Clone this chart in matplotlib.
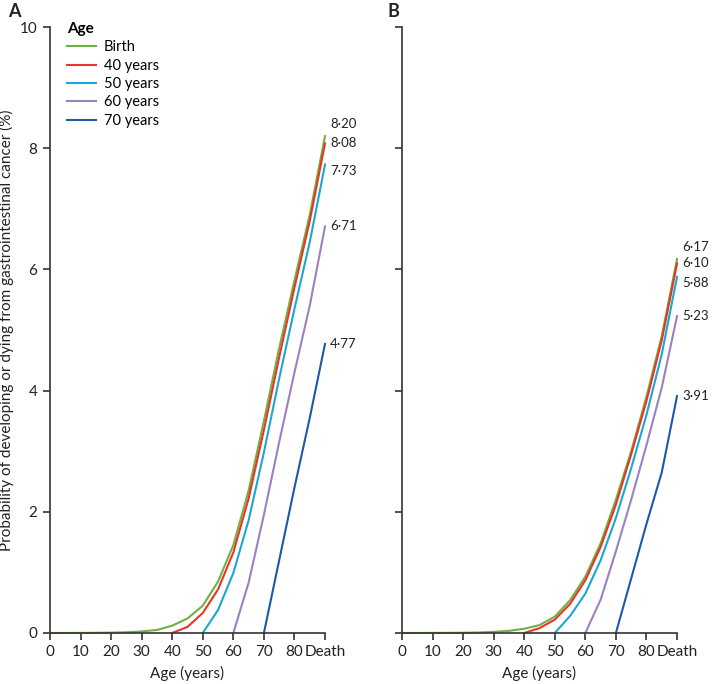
import matplotlib.pyplot as plt

plt.rcParams['font.family'] = ['Lato', 'DejaVu Sans']

# ages along the x axis, 90 stands for "Death"
ages = [0, 5, 10, 15, 20, 25, 30, 35, 40, 45, 50, 55, 60, 65, 70, 75, 80, 85, 90]
xtick_vals = [0, 10, 20, 30, 40, 50, 60, 70, 80, 90]
xtick_labels = ['0', '10', '20', '30', '40', '50', '60', '70', '80', 'Death']

series_names = ['Birth', '40 years', '50 years', '60 years', '70 years']
start_ages = [0, 40, 50, 60, 70]
colors = ['#6cb33f', '#e8352a', '#1ba7d3', '#9b80c4', '#1b5aa8']

# panel A values (from start age onward)
a_birth = [0, 0, 0.001, 0.003, 0.006, 0.012, 0.025, 0.05, 0.12, 0.24, 0.45, 0.85,
           1.45, 2.35, 3.5, 4.7, 5.82, 6.9, 8.20]
a_40 = [0, 0.1, 0.33, 0.72, 1.33, 2.22, 3.35, 4.55, 5.7, 6.8, 8.08]
a_50 = [0, 0.38, 0.99, 1.86, 2.98, 4.2, 5.35, 6.45, 7.73]
a_60 = [0, 0.83, 1.95, 3.15, 4.3, 5.4, 6.71]
a_70 = [0, 1.2, 2.4, 3.55, 4.77]

# panel B values
b_birth = [0, 0, 0.001, 0.002, 0.004, 0.008, 0.018, 0.035, 0.07, 0.13, 0.27, 0.54,
           0.93, 1.48, 2.2, 3.0, 3.9, 4.9, 6.17]
b_40 = [0, 0.08, 0.22, 0.48, 0.87, 1.42, 2.12, 2.95, 3.83, 4.83, 6.10]
b_50 = [0, 0.28, 0.65, 1.2, 1.9, 2.72, 3.6, 4.6, 5.88]
b_60 = [0, 0.55, 1.35, 2.2, 3.1, 4.05, 5.23]
b_70 = [0, 0.9, 1.8, 2.65, 3.91]

panels = [('A', [a_birth, a_40, a_50, a_60, a_70]),
          ('B', [b_birth, b_40, b_50, b_60, b_70])]

# small vertical nudges so end labels do not collide
nudge = [0.2, 0.0, -0.1, 0.0, 0.0]

fig = plt.figure(figsize=(7.12, 6.84), dpi=100)
axes_pos = [[0.0702, 0.0746, 0.3863, 0.8859],
            [0.5646, 0.0746, 0.3863, 0.8859]]
letter_pos = [(0.011, 0.983), (0.544, 0.983)]

for i, (letter, data) in enumerate(panels):
    ax = fig.add_axes(axes_pos[i])
    for name, start, vals, col in zip(series_names, start_ages, data, colors):
        xs = [a for a in ages if a >= start]
        ax.plot(xs, vals, color=col, lw=1.5, label=name, clip_on=False,
                solid_joinstyle='round')
    # end value labels
    for k, (vals, col) in enumerate(zip(data, colors)):
        ax.text(91.6, vals[-1] + nudge[k], f'{vals[-1]:.2f}'.replace('.', '·'),
                ha='left', va='center', fontsize=9.5, color='#222222')

    ax.set_xlim(0, 90)
    ax.set_ylim(0, 10)
    ax.set_xticks(xtick_vals)
    ax.set_xticklabels(xtick_labels)
    ax.set_yticks([0, 2, 4, 6, 8, 10])
    for s in ['top', 'right']:
        ax.spines[s].set_visible(False)
    for s in ['left', 'bottom']:
        ax.spines[s].set_color('#333333')
        ax.spines[s].set_linewidth(1.2)
    ax.tick_params(length=5, width=1.2, color='#333333', labelsize=11,
                   labelcolor='#222222', pad=4)
    ax.set_xlabel('Age (years)', fontsize=11, color='#222222', labelpad=5)
    if i == 0:
        ax.set_ylabel('Probability of developing or dying from gastrointestinal cancer (%)',
                      fontsize=11, color='#222222', labelpad=4)
        leg = ax.legend(loc='upper left', bbox_to_anchor=(0.015, 1.03), frameon=False,
                        title='Age', alignment='left', fontsize=10.5,
                        handlelength=2.0, handletextpad=0.5, labelspacing=0.3)
        leg.get_title().set_fontweight('bold')
        leg.get_title().set_fontsize(11)
    else:
        ax.set_yticklabels([])
    fig.text(letter_pos[i][0], letter_pos[i][1], letter, fontsize=13,
             fontweight='bold', color='#222222', ha='left', va='center')

fig.savefig('out.png', dpi=100)
